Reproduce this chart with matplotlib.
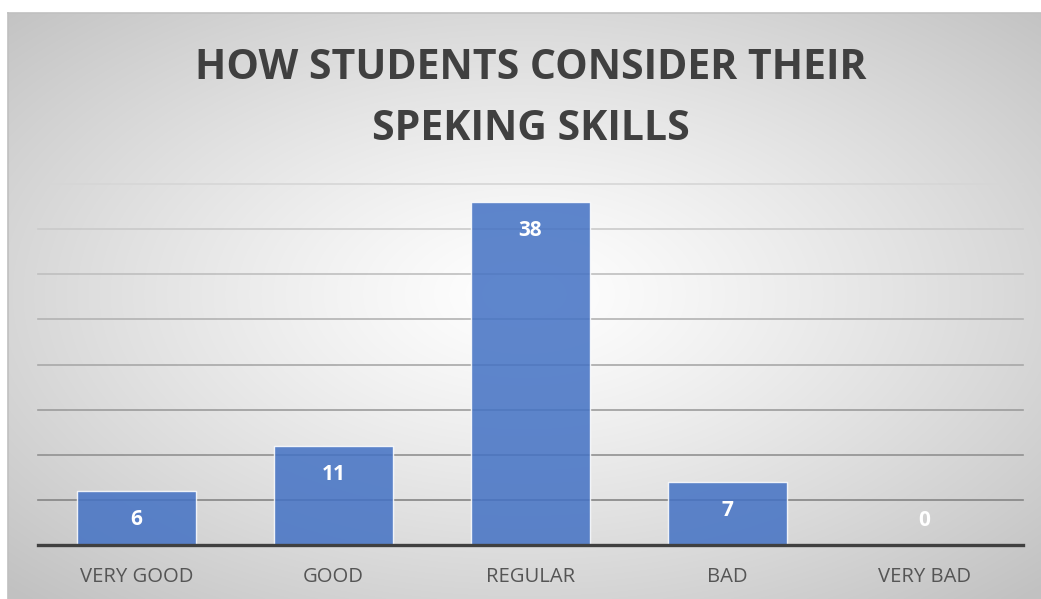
import numpy as np
import matplotlib
matplotlib.use("Agg")
import matplotlib.pyplot as plt
from matplotlib.colors import to_rgb

categories = ["VERY GOOD", "GOOD", "REGULAR", "BAD", "VERY BAD"]
values = [6, 11, 38, 7, 0]
title_lines = ["HOW STUDENTS CONSIDER THEIR", "SPEKING SKILLS"]
grid_levels = [5, 10, 15, 20, 25, 30, 35, 40]

W, H = 1041, 599
fig = plt.figure(figsize=(W / 100, H / 100), dpi=100)
fig.patch.set_facecolor("white")

# background with radial gradient
bx0, by0, bw, bh = 8 / W, 0, (W - 8) / W, (H - 13) / H
bg = fig.add_axes([bx0, by0, bw, bh], zorder=0)
nx, ny = 600, 340
xs = np.linspace(0, 1, nx)
ys = np.linspace(1, 0, ny)
X, Y = np.meshgrid(xs, ys)
cx, cy = 0.50, 0.52
r = np.sqrt(((X - cx) / 0.5) ** 2 + ((Y - cy) / 0.5) ** 2) / np.sqrt(2)
r = np.clip(r, 0, 1)
g = 1.0 - (1.0 - 0.76) * r ** 1.2
img = np.dstack([g, g, g])
bg.imshow(img, extent=[0, 1, 0, 1], aspect="auto", interpolation="bilinear")
bg.set_xlim(0, 1)
bg.set_ylim(0, 1)
bg.set_xticks([])
bg.set_yticks([])
for s in ["right", "bottom"]:
    bg.spines[s].set_visible(False)
for s in ["left", "top"]:
    bg.spines[s].set_color("#c0c0c0")
    bg.spines[s].set_linewidth(1.2)

# main plot
ax = fig.add_axes([38 / W, (H - 545) / H, 985 / W, (545 - 184) / H], zorder=1)
ax.patch.set_alpha(0)
x = np.arange(len(categories))
ax.set_xlim(-0.5, len(categories) - 0.5)
ax.set_ylim(0, 40)

top_c = np.array(to_rgb("#d6d6d6"))
bot_c = np.array(to_rgb("#858585"))
for lv in grid_levels:
    t = (lv - grid_levels[0]) / (grid_levels[-1] - grid_levels[0])
    c = bot_c * (1 - t) + top_c * t
    ax.axhline(lv, color=c, lw=1.2, zorder=1, clip_on=False)

bars = ax.bar(x, values, width=0.6, color="#4472C4", alpha=0.86,
              edgecolor=(1, 1, 1, 0.5), linewidth=1.0, zorder=2)
ax.axhline(0, color="#404040", lw=2.4, zorder=4, clip_on=False)

for xi, v in zip(x, values):
    if v > 0:
        off = -20.5
    else:
        off = 18
    ax.annotate(str(v), (xi, v), xytext=(0, off), textcoords="offset points",
                ha="center", va="center", color="white", fontsize=15,
                fontweight="bold", family="Open Sans", zorder=5)

for s in ax.spines.values():
    s.set_visible(False)
ax.set_yticks([])
ax.set_xticks(x)
ax.set_xticklabels(categories, fontsize=14.6, family="Open Sans", color="#555555")
ax.tick_params(axis="x", length=0, pad=16)

fig.text(531 / W, 1 - 79 / H, title_lines[0], ha="center", va="baseline",
         fontsize=29.5, fontweight="bold", family="Open Sans", color="#404040")
fig.text(531 / W, 1 - 140 / H, title_lines[1], ha="center", va="baseline",
         fontsize=29.5, fontweight="bold", family="Open Sans", color="#404040")

fig.savefig("out.png", dpi=100, facecolor="white")
